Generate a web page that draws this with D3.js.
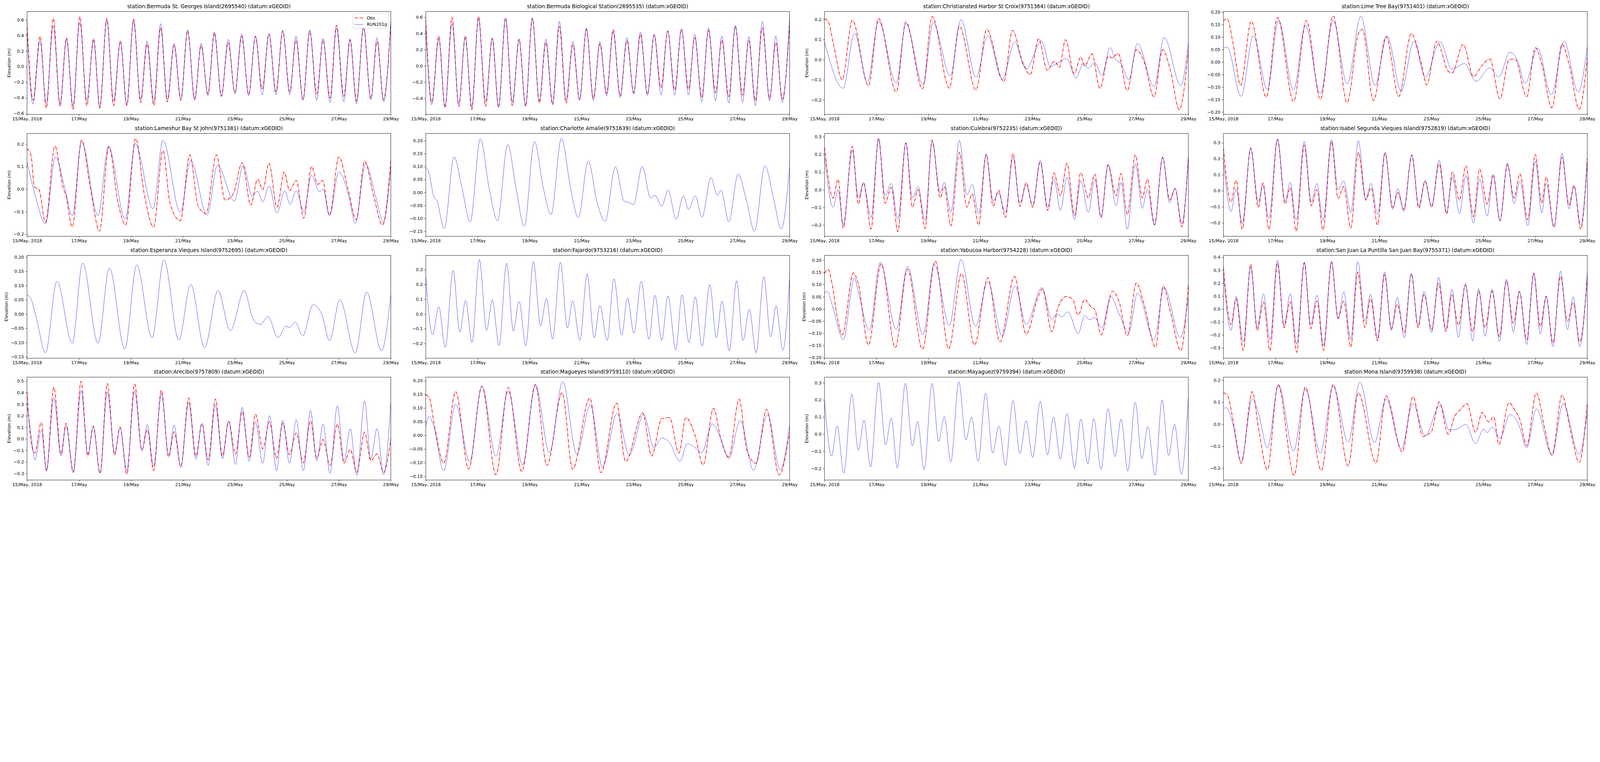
<!DOCTYPE html>
<html>
<head>
<meta charset="utf-8">
<script src="https://cdn.jsdelivr.net/npm/d3@7"></script>
<style>
  html, body { margin: 0; padding: 0; background: #fff; overflow: hidden; }
  svg { display: block; width: 100vw; height: auto; }
  text { font-family: "DejaVu Sans", sans-serif; }
</style>
</head>
<body>
<div id="chart"></div>
<script>
/* station titles, one per panel (row by row) */
const titles = [
  'station:Bermuda St. Georges Island(2695540) (datum:xGEOID)',
  'station:Bermuda Biological Station(2695535) (datum:xGEOID)',
  'station:Christiansted Harbor St Croix(9751364) (datum:xGEOID)',
  'station:Lime Tree Bay(9751401) (datum:xGEOID)',
  'station:Lameshur Bay St John(9751381) (datum:xGEOID)',
  'station:Charlotte Amalie(9751639) (datum:xGEOID)',
  'station:Culebra(9752235) (datum:xGEOID)',
  'station:Isabel Segunda Vieques Island(9752619) (datum:xGEOID)',
  'station:Esperanza Vieques Island(9752695) (datum:xGEOID)',
  'station:Fajardo(9753216) (datum:xGEOID)',
  'station:Yabucoa Harbor(9754228) (datum:xGEOID)',
  'station:San Juan La Puntilla San Juan Bay(9755371) (datum:xGEOID)',
  'station:Arecibo(9757809) (datum:xGEOID)',
  'station:Magueyes Island(9759110) (datum:xGEOID)',
  'station:Mayaguez(9759394) (datum:xGEOID)',
  'station:Mona Island(9759938) (datum:xGEOID)'
];

const xTickLabels = ['15/May, 2018', '17/May', '19/May', '21/May', '23/May', '25/May', '27/May', '29/May'];
const seriesNames = ['Obs', 'RUN201g'];

// y limits and tick step per panel
const yLims = [[-0.611, 0.706], [-0.598, 0.671], [-0.272, 0.240], [-0.2095, 0.2025],
  [-0.209, 0.247], [-0.169, 0.228], [-0.262, 0.318], [-0.284, 0.358],
  [-0.155, 0.206], [-0.299, 0.397], [-0.202, 0.22], [-0.381, 0.415],
  [-0.356, 0.535], [-0.163, 0.213], [-0.267, 0.333], [-0.253, 0.214]];
const yTickSteps = [0.2, 0.2, 0.1, 0.05, 0.1, 0.05, 0.1, 0.1, 0.05, 0.1, 0.05, 0.1, 0.1, 0.05, 0.1, 0.1];

/* high / low water times (days after 15 May 00:00) and elevations (m) */
const tBermuda = [0, 0.23, 0.50, 0.74, 1.01, 1.27, 1.52, 1.77, 2.03, 2.30, 2.56, 2.80, 3.07, 3.33,
  3.59, 3.84, 4.10, 4.37, 4.62, 4.88, 5.14, 5.40, 5.66, 5.92, 6.18, 6.45, 6.70, 6.96, 7.21, 7.48,
  7.74, 8.00, 8.26, 8.53, 8.79, 9.05, 9.31, 9.58, 9.84, 10.11, 10.35, 10.62, 10.88, 11.15, 11.39,
  11.66, 11.91, 12.19, 12.43, 12.68, 12.95, 13.23, 13.47, 13.72, 14];
const modBermudaSG = [0.43, -0.48, 0.33, -0.47, 0.52, -0.47, 0.35, -0.50, 0.57, -0.44, 0.33, -0.51,
  0.59, -0.44, 0.32, -0.49, 0.59, -0.42, 0.33, -0.45, 0.55, -0.42, 0.30, -0.41, 0.47, -0.43, 0.30,
  -0.37, 0.42, -0.38, 0.35, -0.35, 0.42, -0.37, 0.39, -0.36, 0.42, -0.36, 0.46, -0.36, 0.39, -0.43,
  0.47, -0.43, 0.36, -0.46, 0.50, -0.45, 0.36, -0.48, 0.51, -0.42, 0.37, -0.45, 0.60];
const obsBermudaSG = [0.58, -0.43, 0.39, -0.53, 0.62, -0.51, 0.37, -0.55, 0.64, -0.50, 0.36, -0.53,
  0.62, -0.50, 0.33, -0.50, 0.61, -0.46, 0.29, -0.50, 0.50, -0.45, 0.27, -0.43, 0.46, -0.41, 0.27,
  -0.35, 0.44, -0.38, 0.31, -0.33, 0.39, -0.36, 0.39, -0.29, 0.42, -0.32, 0.46, -0.32, 0.34, -0.42,
  0.45, -0.35, 0.34, -0.40, 0.53, -0.38, 0.34, -0.44, 0.51, -0.41, 0.32, -0.42, 0.55];
const modBermudaBio = [0.47, -0.48, 0.33, -0.50, 0.52, -0.47, 0.35, -0.51, 0.58, -0.44, 0.34, -0.51,
  0.59, -0.45, 0.32, -0.49, 0.59, -0.43, 0.33, -0.46, 0.55, -0.42, 0.30, -0.42, 0.47, -0.43, 0.30,
  -0.37, 0.42, -0.39, 0.35, -0.35, 0.42, -0.36, 0.39, -0.36, 0.43, -0.36, 0.46, -0.36, 0.39, -0.44,
  0.47, -0.43, 0.37, -0.46, 0.50, -0.45, 0.36, -0.49, 0.55, -0.43, 0.37, -0.45, 0.60];
const obsBermudaBio = [0.57, -0.45, 0.37, -0.52, 0.60, -0.50, 0.37, -0.54, 0.61, -0.50, 0.34, -0.51,
  0.59, -0.49, 0.33, -0.50, 0.59, -0.46, 0.29, -0.48, 0.49, -0.46, 0.26, -0.42, 0.45, -0.40, 0.27,
  -0.34, 0.45, -0.37, 0.31, -0.33, 0.39, -0.35, 0.38, -0.27, 0.43, -0.30, 0.45, -0.29, 0.35, -0.39,
  0.44, -0.33, 0.32, -0.38, 0.49, -0.36, 0.31, -0.43, 0.47, -0.40, 0.29, -0.41, 0.50];

const modChristiansted = [[0, 0.089], [0.72, -0.142], [1.15, 0.132], [1.65, -0.11], [2.08, 0.192],
  [2.76, -0.115], [3.13, 0.179], [3.79, -0.125], [4.18, 0.184], [4.84, -0.081], [5.25, 0.20],
  [5.83, -0.087], [6.28, 0.12], [6.84, -0.097], [7.33, 0.089], [7.62, -0.017], [7.76, -0.047],
  [8.34, 0.094], [8.69, -0.032], [9.31, 0.005], [9.68, -0.092], [9.96, -0.017], [10.15, -0.043],
  [10.40, -0.014], [10.67, -0.079], [10.99, 0.06], [11.2, 0.0], [11.41, -0.02], [11.71, -0.10],
  [12.04, 0.081], [12.68, -0.133], [13.07, 0.111], [13.71, -0.128], [14, 0.084]];
const obsChristiansted = [[0, 0.205], [0.14, 0.19], [0.37, 0.06], [0.68, -0.10], [1.07, 0.197],
  [1.69, -0.13], [2.08, 0.205], [2.76, -0.161], [3.13, 0.189], [3.77, -0.146], [4.14, 0.215],
  [4.80, -0.141], [5.19, 0.166], [5.83, -0.151], [6.24, 0.151], [6.90, -0.11], [7.23, 0.146],
  [7.62, -0.01], [7.91, -0.074], [8.24, 0.104], [8.57, -0.053], [8.85, -0.007], [9.04, -0.038],
  [9.27, 0.099], [9.61, -0.069], [9.86, 0.014], [10.01, -0.032], [10.29, 0.029], [10.60, -0.143],
  [10.93, 0.019], [11.06, 0.009], [11.30, 0.032], [11.65, -0.154], [12.00, 0.05], [12.29, -0.007],
  [12.68, -0.185], [13.01, 0.05], [13.32, -0.058], [13.65, -0.249], [14, 0.045]];

const modLimeTree = [[0, 0.056], [0.14, 0.06], [0.68, -0.137], [1.15, 0.106], [1.69, -0.11],
  [2.12, 0.168], [2.70, -0.112], [3.15, 0.147], [3.73, -0.127], [4.22, 0.166], [4.76, -0.087],
  [5.29, 0.183], [5.83, -0.093], [6.30, 0.104], [6.84, -0.116], [7.33, 0.083], [7.76, -0.06],
  [8.34, 0.081], [8.79, -0.029], [9.27, -0.006], [9.72, -0.077], [10.25, -0.023], [10.60, -0.06],
  [11.02, 0.039], [11.32, 0.006], [11.61, -0.085], [12.09, 0.056], [12.62, -0.131], [13.11, 0.083],
  [13.65, -0.12], [14, 0.062]];
const obsLimeTree = [[0, 0.165], [0.14, 0.174], [0.37, 0.075], [0.66, -0.093], [1.07, 0.164],
  [1.65, -0.141], [2.08, 0.178], [2.70, -0.158], [3.19, 0.166], [3.73, -0.149], [4.22, 0.185],
  [4.76, -0.162], [5.19, 0.112], [5.35, 0.131], [5.77, -0.154], [6.26, 0.102], [6.75, -0.137],
  [7.23, 0.114], [7.62, -0.008], [7.82, -0.091], [8.21, 0.083], [8.65, -0.037], [8.79, -0.044],
  [9.23, 0.071], [9.62, -0.058], [9.96, -0.012], [10.25, 0.012], [10.64, -0.147], [10.99, 0.010],
  [11.22, 0.012], [11.67, -0.139], [12.00, 0.058], [12.23, 0.0], [12.64, -0.183], [13.03, 0.071],
  [13.32, -0.017], [13.69, -0.189], [14, 0.017]];

const modLameshur = [[0, 0.12], [0.32, -0.03], [0.71, -0.154], [1.09, 0.143], [1.45, 0.007],
  [1.74, -0.117], [2.10, 0.209], [2.73, -0.117], [3.13, 0.189], [3.78, -0.133], [4.16, 0.202],
  [4.85, -0.087], [5.23, 0.216], [5.90, -0.103], [6.30, 0.126], [6.93, -0.115], [7.33, 0.106],
  [7.98, -0.053], [8.32, 0.106], [8.67, -0.032], [8.87, -0.009], [9.07, -0.057], [9.31, 0.014],
  [9.62, -0.106], [9.92, -0.007], [10.12, -0.067], [10.36, -0.007], [10.65, -0.099], [10.95, 0.062],
  [11.25, -0.011], [11.39, 0.0], [11.64, -0.117], [12.00, 0.076], [12.40, -0.039], [12.63, -0.152],
  [13.03, 0.113], [13.39, -0.021], [13.72, -0.145], [14, 0.099]];
const obsLameshur = [[0, 0.18], [0.16, 0.145], [0.28, 0.011], [0.46, -0.002], [0.71, -0.147],
  [1.07, 0.191], [1.39, 0.007], [1.50, -0.03], [1.74, -0.168], [2.10, 0.218], [2.44, 0.002],
  [2.79, -0.186], [3.15, 0.189], [3.49, -0.053], [3.80, -0.159], [4.18, 0.225], [4.51, -0.021],
  [4.87, -0.168], [5.23, 0.172], [5.50, -0.062], [5.90, -0.14], [6.26, 0.152], [6.59, -0.076],
  [6.89, -0.108], [7.29, 0.152], [7.62, -0.048], [7.92, -0.025], [8.28, 0.117], [8.61, -0.071],
  [8.87, 0.044], [9.07, -0.002], [9.31, 0.115], [9.62, -0.080], [9.90, 0.076], [10.10, -0.007],
  [10.36, 0.039], [10.65, -0.129], [10.95, 0.101], [11.19, 0.021], [11.37, 0.039], [11.64, -0.117],
  [12.00, 0.143], [12.34, 0.007], [12.67, -0.136], [12.99, 0.124], [13.33, -0.025], [13.68, -0.159],
  [14, 0.129]];

const modCharlotte = [[0, 0.096], [0.10, 0.083], [0.32, -0.019], [0.42, -0.029], [0.71, -0.139],
  [1.09, 0.137], [1.39, 0.019], [1.71, -0.113], [2.10, 0.207], [2.44, 0.015], [2.76, -0.109],
  [3.15, 0.185], [3.47, 0.019], [3.79, -0.13], [4.18, 0.197], [4.52, 0.019], [4.82, -0.085],
  [5.22, 0.209], [5.57, 0.019], [5.87, -0.097], [6.25, 0.121], [6.60, -0.041], [6.90, -0.111],
  [7.30, 0.099], [7.63, -0.033], [7.83, -0.039], [7.99, -0.047], [8.33, 0.101], [8.65, -0.021],
  [8.82, -0.011], [9.08, -0.053], [9.32, 0.009], [9.64, -0.103], [9.91, -0.013], [10.11, -0.065],
  [10.37, -0.013], [10.63, -0.095], [10.97, 0.057], [11.22, -0.011], [11.36, 0.009], [11.66, -0.113],
  [12.02, 0.071], [12.35, -0.035], [12.65, -0.149], [13.05, 0.103], [13.38, -0.021], [13.68, -0.141],
  [14, 0.099]];

const tCulebra = [0, 0.33, 0.52, 0.72, 1.07, 1.30, 1.50, 1.79, 2.08, 2.33, 2.57, 2.82, 3.13, 3.38,
  3.60, 3.87, 4.14, 4.45, 4.61, 4.86, 5.19, 5.48, 5.68, 5.93, 6.22, 6.49, 6.69, 6.96, 7.25, 7.52,
  7.76, 8.01, 8.30, 8.59, 8.83, 9.08, 9.33, 9.62, 9.86, 10.15, 10.40, 10.64, 10.91, 11.22, 11.41,
  11.65, 11.96, 12.23, 12.42, 12.70, 13.01, 13.28, 13.49, 13.75, 14];
const modCulebra = [0.19, -0.098, 0.0, -0.197, 0.223, -0.046, 0.036, -0.156, 0.287, -0.034, 0.036,
  -0.165, 0.264, -0.046, 0.019, -0.174, 0.273, -0.016, 0.042, -0.124, 0.278, -0.028, 0.03, -0.136,
  0.20, -0.063, -0.016, -0.127, 0.182, -0.075, 0.027, -0.086, 0.165, -0.098, 0.06, -0.116, 0.071,
  -0.168, 0.051, -0.127, 0.06, -0.151, 0.144, -0.089, 0.042, -0.221, 0.147, -0.104, 0.001, -0.2,
  0.185, -0.075, 0.007, -0.191, 0.185];
const obsCulebra = [0.24, -0.046, 0.06, -0.215, 0.246, -0.08, 0.042, -0.221, 0.29, -0.075, 0.013,
  -0.235, 0.264, -0.098, 0.001, -0.218, 0.281, -0.046, 0.019, -0.203, 0.211, -0.098, -0.022, -0.2,
  0.20, -0.092, -0.002, -0.156, 0.205, -0.092, 0.042, -0.098, 0.156, -0.116, 0.095, -0.034, 0.15,
  -0.145, 0.097, -0.046, 0.089, -0.156, 0.138, -0.034, 0.092, -0.139, 0.197, -0.046, 0.06, -0.197,
  0.182, -0.057, 0.007, -0.209, 0.185];

const tIsabel = [0, 0.29, 0.49, 0.72, 1.05, 1.34, 1.52, 1.75, 2.08, 2.37, 2.57, 2.80, 3.11, 3.38,
  3.60, 3.83, 4.16, 4.41, 4.63, 4.90, 5.19, 5.48, 5.68, 5.93, 6.22, 6.51, 6.71, 6.94, 7.25, 7.52,
  7.76, 8.01, 8.30, 8.59, 8.81, 9.08, 9.33, 9.62, 9.86, 10.15, 10.38, 10.64, 10.93, 11.18, 11.41,
  11.71, 12.00, 12.25, 12.42, 12.72, 13.03, 13.30, 13.49, 13.75, 14];
const modIsabel = [0.188, -0.129, 0.01, -0.206, 0.263, -0.07, 0.033, -0.171, 0.324, -0.064, 0.052,
  -0.184, 0.308, -0.07, 0.046, -0.187, 0.318, 0.007, 0.062, -0.135, 0.314, -0.051, 0.046, -0.148,
  0.24, -0.116, 0.014, -0.129, 0.221, -0.096, 0.065, -0.096, 0.191, -0.135, 0.088, -0.142, 0.094,
  -0.2, 0.072, -0.158, 0.098, -0.184, 0.175, -0.08, 0.059, -0.219, 0.185, -0.138, 0.046, -0.226,
  0.234, -0.113, 0.027, -0.213, 0.182];
const obsIsabel = [0.266, -0.07, 0.065, -0.239, 0.267, -0.103, 0.049, -0.242, 0.321, -0.083, 0.02,
  -0.252, 0.285, -0.093, 0.007, -0.245, 0.308, -0.048, 0.027, -0.232, 0.24, -0.058, 0.02, -0.213,
  0.234, -0.103, -0.012, -0.116, 0.224, -0.109, 0.059, -0.103, 0.169, -0.145, 0.117, -0.058, 0.156,
  -0.161, 0.136, -0.083, 0.101, -0.187, 0.162, -0.045, 0.107, -0.18, 0.227, -0.077, 0.085, -0.226,
  0.208, -0.09, 0.033, -0.239, 0.204];

const modEsperanza = [[0, 0.066], [0.10, 0.062], [0.36, -0.014], [0.71, -0.136], [1.15, 0.115],
  [1.74, -0.102], [2.14, 0.179], [2.73, -0.102], [3.17, 0.162], [3.76, -0.123], [4.22, 0.172],
  [4.81, -0.083], [5.27, 0.19], [5.84, -0.091], [6.30, 0.104], [6.83, -0.118], [7.35, 0.082],
  [7.82, -0.058], [8.36, 0.082], [8.67, -0.011], [8.83, -0.032], [8.99, -0.036], [9.27, -0.009],
  [9.66, -0.083], [9.96, -0.043], [10.10, -0.047], [10.32, -0.029], [10.61, -0.076], [11.01, 0.033],
  [11.35, -0.003], [11.64, -0.093], [12.04, 0.05], [12.63, -0.136], [13.07, 0.077], [13.64, -0.129],
  [14, 0.07]];

const tFajardo = [0, 0.26, 0.50, 0.75, 1.05, 1.31, 1.53, 1.78, 2.06, 2.34, 2.56, 2.82, 3.11, 3.37,
  3.59, 3.85, 4.14, 4.42, 4.64, 4.88, 5.18, 5.45, 5.65, 5.93, 6.21, 6.48, 6.70, 6.98, 7.24, 7.54,
  7.76, 8.01, 8.29, 8.59, 8.82, 9.08, 9.32, 9.62, 9.86, 10.13, 10.37, 10.63, 10.93, 11.18, 11.40,
  11.68, 11.96, 12.21, 12.45, 12.71, 13.01, 13.27, 13.48, 13.74, 14];
const modFajardo = [0.253, -0.14, 0.05, -0.224, 0.295, -0.122, 0.092, -0.192, 0.369, -0.111, 0.095,
  -0.213, 0.344, -0.115, 0.085, -0.213, 0.355, -0.08, 0.106, -0.168, 0.351, -0.094, 0.088, -0.178,
  0.271, -0.161, 0.057, -0.178, 0.239, -0.143, 0.109, -0.129, 0.222, -0.171, 0.127, -0.178, 0.123,
  -0.241, 0.13, -0.192, 0.116, -0.217, 0.2, -0.161, 0.088, -0.248, 0.225, -0.178, 0.032, -0.262,
  0.253, -0.154, 0.055, -0.245, 0.243];

const modYabucoa = [[0, 0.063], [0.10, 0.073], [0.29, 0.018], [0.72, -0.125], [1.15, 0.128],
  [1.30, 0.069], [1.73, -0.086], [2.14, 0.192], [2.76, -0.084], [3.19, 0.175], [3.79, -0.106],
  [4.22, 0.184], [4.80, -0.067], [5.25, 0.203], [5.81, -0.071], [6.28, 0.111], [6.84, -0.11],
  [7.33, 0.094], [7.76, -0.063], [8.36, 0.088], [8.75, -0.042], [8.94, -0.02], [9.14, -0.031],
  [9.37, -0.012], [9.76, -0.101], [10.01, -0.027], [10.19, -0.044], [10.40, -0.035], [10.67, -0.076],
  [11.02, 0.05], [11.32, -0.016], [11.71, -0.097], [12.04, 0.065], [12.68, -0.125], [13.07, 0.088],
  [13.69, -0.118], [14, 0.048]];
const obsYabucoa = [[0, 0.146], [0.14, 0.163], [0.29, 0.103], [0.49, -0.033], [0.68, -0.106],
  [1.11, 0.148], [1.30, 0.103], [1.69, -0.148], [2.18, 0.186], [2.72, -0.159], [3.19, 0.163],
  [3.77, -0.165], [4.26, 0.197], [4.78, -0.163], [5.27, 0.146], [5.77, -0.148], [6.28, 0.129],
  [6.75, -0.135], [7.31, 0.133], [7.76, -0.103], [8.21, 0.048], [8.38, 0.082], [8.75, -0.093],
  [8.98, 0.005], [9.31, 0.052], [9.57, 0.035], [9.76, -0.025], [10.01, 0.039], [10.25, 0.009],
  [10.40, -0.003], [10.64, -0.106], [11.08, 0.073], [11.32, 0.035], [11.65, -0.11], [12.00, 0.107],
  [12.29, 0.022], [12.74, -0.157], [13.03, 0.094], [13.32, -0.016], [13.71, -0.171], [14, 0.103]];

const tSanJuan = [0, 0.29, 0.49, 0.76, 1.05, 1.30, 1.54, 1.79, 2.08, 2.33, 2.57, 2.82, 3.11, 3.36,
  3.60, 3.85, 4.16, 4.41, 4.63, 4.90, 5.17, 5.44, 5.66, 5.93, 6.20, 6.46, 6.69, 6.96, 7.23, 7.49,
  7.72, 8.01, 8.28, 8.56, 8.79, 9.04, 9.31, 9.59, 9.82, 10.07, 10.34, 10.62, 10.89, 11.16, 11.39,
  11.67, 11.94, 12.19, 12.42, 12.68, 12.97, 13.24, 13.46, 13.71, 14];
const modSanJuan = [0.262, -0.167, 0.098, -0.255, 0.322, -0.143, 0.118, -0.239, 0.378, -0.127, 0.118,
  -0.271, 0.362, -0.119, 0.106, -0.283, 0.37, -0.079, 0.134, -0.231, 0.366, -0.095, 0.114, -0.227,
  0.288, -0.167, 0.09, -0.223, 0.274, -0.127, 0.138, -0.183, 0.246, -0.159, 0.154, -0.219, 0.194,
  -0.247, 0.158, -0.211, 0.154, -0.251, 0.23, -0.179, 0.138, -0.275, 0.274, -0.191, 0.094, -0.291,
  0.294, -0.159, 0.094, -0.291, 0.282];
const obsSanJuan = [0.326, -0.119, 0.078, -0.319, 0.346, -0.167, 0.054, -0.323, 0.354, -0.143, 0.058,
  -0.335, 0.358, -0.151, 0.062, -0.319, 0.362, -0.071, 0.062, -0.295, 0.286, -0.143, 0.08, -0.247,
  0.266, -0.151, 0.038, -0.183, 0.274, -0.143, 0.114, -0.159, 0.202, -0.175, 0.11, -0.127, 0.186,
  -0.175, 0.138, -0.143, 0.138, -0.215, 0.218, -0.111, 0.134, -0.239, 0.278, -0.135, 0.098, -0.263,
  0.254, -0.095, 0.05, -0.255, 0.234];

const tArecibo = [0, 0.16, 0.30, 0.55, 0.75, 1.03, 1.31, 1.50, 1.78, 2.08, 2.34, 2.55, 2.81, 3.09,
  3.37, 3.58, 3.84, 4.14, 4.42, 4.63, 4.87, 5.17, 5.45, 5.66, 5.92, 6.22, 6.50, 6.73, 6.97, 7.25,
  7.52, 7.76, 8.02, 8.28, 8.55, 8.79, 9.07, 9.33, 9.60, 9.84, 10.10, 10.36, 10.63, 10.91, 11.15,
  11.39, 11.66, 11.94, 12.20, 12.44, 12.69, 12.99, 13.23, 13.47, 13.72, 14];
const modArecibo = [0.29, 0.03, -0.185, 0.076, -0.275, 0.355, -0.149, 0.112, -0.293, 0.418, -0.131,
  0.103, -0.293, 0.409, -0.122, 0.094, -0.275, 0.413, -0.104, 0.125, -0.239, 0.391, -0.14, 0.121,
  -0.244, 0.314, -0.176, 0.13, -0.23, 0.292, -0.172, 0.152, -0.221, 0.274, -0.194, 0.148, -0.212,
  0.202, -0.275, 0.161, -0.212, 0.166, -0.275, 0.247, -0.19, 0.13, -0.298, 0.287, -0.19, 0.089,
  -0.316, 0.328, -0.176, 0.089, -0.311, 0.323];
const obsArecibo = [0.413, -0.03, -0.122, 0.143, -0.275, 0.449, -0.131, 0.134, -0.284, 0.499, -0.149,
  0.112, -0.298, 0.481, -0.14, 0.103, -0.307, 0.476, -0.095, 0.08, -0.275, 0.422, -0.158, 0.062,
  -0.239, 0.355, -0.149, 0.134, -0.181, 0.346, -0.149, 0.152, -0.131, 0.238, -0.158, 0.215, -0.086,
  0.148, -0.167, 0.139, -0.136, 0.053, -0.208, 0.157, -0.167, -0.005, -0.23, 0.13, -0.212, -0.091,
  -0.289, 0.06, -0.19, -0.13, -0.289, 0.004];

const modMagueyes = [[0, 0.034], [0.12, 0.069], [0.30, 0.034], [0.69, -0.129], [1.15, 0.114],
  [1.69, -0.096], [2.16, 0.18], [2.70, -0.075], [3.17, 0.161], [3.73, -0.108], [4.22, 0.184],
  [4.76, -0.064], [5.27, 0.197], [5.81, -0.068], [6.33, 0.112], [6.80, -0.115], [7.36, 0.08],
  [7.83, -0.072], [8.39, 0.076], [8.78, -0.045], [9.08, -0.009], [9.38, -0.026], [9.78, -0.094],
  [10.07, -0.03], [10.37, -0.045], [10.61, -0.064], [11.03, 0.042], [11.32, -0.003], [11.66, -0.085],
  [12.10, 0.055], [12.61, -0.127], [13.15, 0.076], [13.64, -0.125], [14, 0.038]];
const obsMagueyes = [[0, 0.148], [0.12, 0.141], [0.36, 0.023], [0.69, -0.102], [1.15, 0.16],
  [1.65, -0.123], [2.16, 0.18], [2.70, -0.144], [3.17, 0.175], [3.69, -0.132], [4.22, 0.186],
  [4.66, -0.11], [5.25, 0.156], [5.65, -0.123], [6.31, 0.137], [6.74, -0.136], [7.34, 0.118],
  [7.69, -0.096], [8.35, 0.082], [8.69, -0.075], [9.08, 0.061], [9.38, 0.065], [9.74, -0.064],
  [10.01, 0.065], [10.37, -0.003], [10.67, -0.108], [11.07, 0.099], [11.36, -0.015], [11.66, -0.079],
  [12.06, 0.133], [12.35, -0.053], [12.71, -0.102], [13.11, 0.095], [13.60, -0.144], [14, 0.012]];

const tMayaguez = [0, 0.27, 0.49, 0.74, 1.05, 1.30, 1.52, 1.77, 2.08, 2.35, 2.57, 2.80, 3.11, 3.38,
  3.58, 3.83, 4.14, 4.39, 4.61, 4.86, 5.17, 5.44, 5.66, 5.91, 6.20, 6.47, 6.71, 6.96, 7.25, 7.52,
  7.76, 8.01, 8.30, 8.58, 8.81, 9.08, 9.33, 9.62, 9.86, 10.13, 10.36, 10.64, 10.91, 11.18, 11.41,
  11.67, 11.96, 12.21, 12.44, 12.72, 12.99, 13.24, 13.47, 13.73, 14];
const modMayaguez = [0.194, -0.127, 0.048, -0.227, 0.233, -0.094, 0.082, -0.191, 0.303, -0.061, 0.094,
  -0.197, 0.297, -0.067, 0.076, -0.206, 0.297, -0.042, 0.103, -0.161, 0.306, -0.033, 0.10, -0.158,
  0.239, -0.109, 0.048, -0.182, 0.197, -0.112, 0.079, -0.136, 0.191, -0.121, 0.10, -0.145, 0.121,
  -0.197, 0.088, -0.173, 0.091, -0.206, 0.148, -0.13, 0.088, -0.215, 0.185, -0.142, 0.045, -0.239,
  0.20, -0.124, 0.058, -0.233, 0.215];

const modMona = [[0, 0.068], [0.10, 0.077], [0.33, 0.016], [0.68, -0.168], [1.11, 0.115],
  [1.36, 0.044], [1.69, -0.107], [2.12, 0.179], [2.70, -0.121], [3.15, 0.16], [3.73, -0.13],
  [4.22, 0.174], [4.80, -0.081], [5.25, 0.193], [5.81, -0.083], [6.26, 0.115], [6.84, -0.111],
  [7.29, 0.094], [7.76, -0.05], [8.34, 0.087], [8.69, -0.026], [8.98, -0.022], [9.33, 0.0],
  [9.70, -0.088], [10.01, -0.022], [10.15, -0.038], [10.34, -0.012], [10.64, -0.064], [11.02, 0.044],
  [11.37, -0.003], [11.67, -0.107], [12.04, 0.07], [12.64, -0.14], [13.07, 0.094], [13.69, -0.137],
  [14, 0.054]];
const obsMona = [[0, 0.143], [0.14, 0.134], [0.43, -0.022], [0.68, -0.177], [1.11, 0.148],
  [1.36, -0.026], [1.69, -0.206], [2.10, 0.179], [2.72, -0.232], [3.15, 0.169], [3.77, -0.21],
  [4.22, 0.181], [4.80, -0.189], [5.19, 0.143], [5.87, -0.175], [6.26, 0.129], [6.88, -0.125],
  [7.29, 0.125], [7.68, -0.055], [8.01, -0.031], [8.30, 0.101], [8.65, -0.045], [8.89, 0.035],
  [9.12, 0.066], [9.37, 0.094], [9.70, -0.036], [9.96, 0.054], [10.21, 0.011], [10.40, 0.035],
  [10.60, -0.092], [10.99, 0.099], [11.22, 0.063], [11.41, 0.021], [11.67, -0.097], [12.04, 0.143],
  [12.35, -0.012], [12.64, -0.14], [13.03, 0.132], [13.36, -0.031], [13.69, -0.173], [14, 0.096]];

const zip = (t, v) => t.map((d, i) => [d, v[i]]);

const obsSeries = [
  zip(tBermuda, obsBermudaSG), zip(tBermuda, obsBermudaBio), obsChristiansted, obsLimeTree,
  obsLameshur, null, zip(tCulebra, obsCulebra), zip(tIsabel, obsIsabel),
  null, null, obsYabucoa, zip(tSanJuan, obsSanJuan),
  zip(tArecibo, obsArecibo), obsMagueyes, null, obsMona
];
const modSeries = [
  zip(tBermuda, modBermudaSG), zip(tBermuda, modBermudaBio), modChristiansted, modLimeTree,
  modLameshur, modCharlotte, zip(tCulebra, modCulebra), zip(tIsabel, modIsabel),
  modEsperanza, zip(tFajardo, modFajardo), modYabucoa, zip(tSanJuan, modSanJuan),
  zip(tArecibo, modArecibo), modMagueyes, zip(tMayaguez, modMayaguez), modMona
];

/* layout (figure pixels) */
const W = 5150, H = 1950;
const axW = 1171, axH = 331;
const colX = [87, 1370.5, 2654, 3938];
const rowY = [37, 429.3, 821.7, 1213.5];
const tickFont = 13.9, titleFont = 16.7;
const obsDash = '10,3,2,3';
const modColor = '#0000ff';

// scale the whole figure to the window width
const svg = d3.select('#chart').append('svg')
  .attr('viewBox', `0 0 ${W} ${H}`)
  .attr('preserveAspectRatio', 'xMinYMin meet');

svg.append('rect').attr('width', W).attr('height', H).attr('fill', '#fff');

const minus = s => s.replace(/-/g, '\u2212');

function drawPanel(i){
  const col = i % 4, row = Math.floor(i / 4);
  const g = svg.append('g').attr('transform', `translate(${colX[col]},${rowY[row]})`);

  const x = d3.scaleLinear().domain([0, 14]).range([0, axW]);
  const y = d3.scaleLinear().domain(yLims[i]).range([axH, 0]);

  g.append('clipPath').attr('id', `clip${i}`)
    .append('rect').attr('width', axW).attr('height', axH);

  const line = d3.line()
    .x(d => x(d[0]))
    .y(d => y(d[1]))
    .curve(d3.curveMonotoneX);

  const plot = g.append('g').attr('clip-path', `url(#clip${i})`);

  if(obsSeries[i]){
    plot.append('path')
      .datum(obsSeries[i])
      .attr('d', line)
      .attr('fill', 'none')
      .attr('stroke', 'red')
      .attr('stroke-width', 2.1)
      .attr('stroke-dasharray', obsDash);
  }

  plot.append('path')
    .datum(modSeries[i])
    .attr('d', line)
    .attr('fill', 'none')
    .attr('stroke', modColor)
    .attr('stroke-opacity', 0.9)
    .attr('stroke-width', 1);

  // x axis
  const xAxis = d3.axisBottom(x)
    .tickValues(d3.range(0, 15, 2))
    .tickFormat((d, k) => xTickLabels[k])
    .tickSize(4.9)
    .tickPadding(4.9);
  const gx = g.append('g').attr('transform', `translate(0,${axH})`).call(xAxis);

  // y axis
  const step = yTickSteps[i];
  const k0 = Math.ceil(yLims[i][0] / step - 1e-6);
  const k1 = Math.floor(yLims[i][1] / step + 1e-6);
  const yTicks = d3.range(k0, k1 + 1).map(k => +(k * step).toFixed(4));
  const fmt = d3.format(step < 0.1 ? '.2f' : '.1f');
  const yAxis = d3.axisLeft(y)
    .tickValues(yTicks)
    .tickFormat(d => minus(fmt(d)))
    .tickSize(4.9)
    .tickPadding(4.9);
  const gy = g.append('g').call(yAxis);

  [gx, gy].forEach(a => {
    a.select('.domain').remove();
    a.selectAll('line').attr('stroke', '#000').attr('stroke-width', 1.1);
    a.selectAll('text')
      .attr('fill', '#000')
      .style('font-size', tickFont + 'px')
      .style('font-family', '"DejaVu Sans", sans-serif');
  });

  // frame
  g.append('rect')
    .attr('width', axW)
    .attr('height', axH)
    .attr('fill', 'none')
    .attr('stroke', '#000')
    .attr('stroke-width', 1.1);

  // title
  g.append('text')
    .attr('x', axW / 2)
    .attr('y', -11)
    .attr('text-anchor', 'middle')
    .style('font-size', titleFont + 'px')
    .text(titles[i]);

  // y label on every other column
  if(col % 2 === 0){
    const bb = gy.node().getBBox();
    const lx = bb.x - 5.6 - 3.3;
    g.append('text')
      .attr('transform', `translate(${lx},${axH / 2}) rotate(-90)`)
      .attr('text-anchor', 'middle')
      .style('font-size', tickFont + 'px')
      .text('Elevation (m)');
  }

  // legend on first panel only
  if(i === 0){
    const lw = 115, lh = 47;
    const lg = g.append('g').attr('transform', `translate(${axW - 7 - lw},7)`);
    lg.append('rect')
      .attr('width', lw).attr('height', lh)
      .attr('rx', 3.5)
      .attr('fill', '#fff').attr('fill-opacity', 0.8)
      .attr('stroke', '#ccc').attr('stroke-width', 1.1);
    seriesNames.forEach((name, k) => {
      const cy = 13.5 + k * 21;
      const h = lg.append('line')
        .attr('x1', 5.6).attr('x2', 33.4)
        .attr('y1', cy).attr('y2', cy);
      if(k === 0){
        h.attr('stroke', 'red').attr('stroke-width', 2.1).attr('stroke-dasharray', obsDash);
      } else {
        h.attr('stroke', modColor).attr('stroke-opacity', 0.9).attr('stroke-width', 1);
      }
      lg.append('text')
        .attr('x', 44.5).attr('y', cy)
        .attr('dy', '0.35em')
        .style('font-size', tickFont + 'px')
        .text(name);
    });
  }
}

titles.forEach((t, i) => drawPanel(i));
</script>
</body>
</html>
